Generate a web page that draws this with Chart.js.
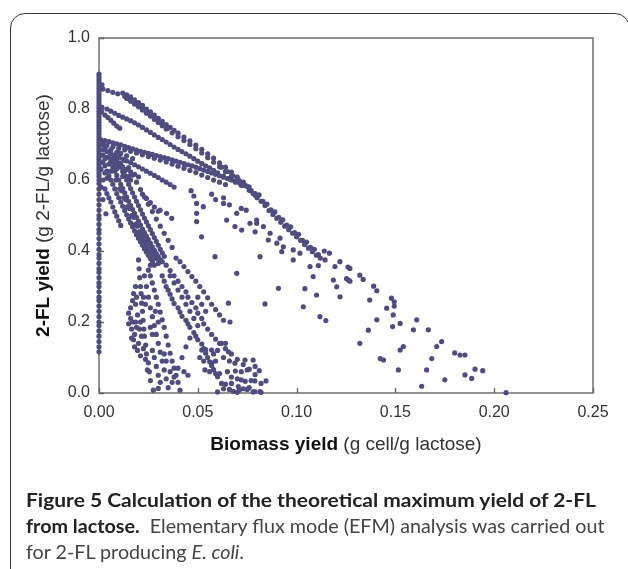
<!DOCTYPE html>
<html>
<head>
<meta charset="utf-8">
<script src="https://cdn.jsdelivr.net/npm/chart.js@4/dist/chart.umd.min.js"></script>
<style>
  html, body { margin:0; padding:0; background:#fff; overflow:hidden; }
  #wrap { position:relative; width:628px; height:569px; }
  #frame { position:absolute; left:10px; top:13px; width:620px; height:600px;
           border:1.6px solid #333; border-radius:15px; box-sizing:border-box; }
  #chart { position:absolute; left:0; top:0; }
  .cap { position:absolute; left:26px; font-family:Lato, "Noto Sans", sans-serif; font-size:19px;
         color:#444; white-space:nowrap; transform-origin:0 50%; line-height:26px; }
  .cap b { color:#222; }
</style>
</head>
<body>
<div id="wrap">
  <div id="frame"></div>
  <canvas id="chart" width="628" height="569"></canvas>
  <div class="cap" id="cap1" style="top:487px"><b>Figure 5 Calculation of the theoretical maximum yield of 2-FL</b></div>
  <div class="cap" id="cap2" style="top:513px"><b>from lactose.</b>&nbsp; Elementary flux mode (EFM) analysis was carried out</div>
  <div class="cap" id="cap3" style="top:539px">for 2-FL producing <i>E. coli</i>.</div>
</div>
<script>
// axis ticks
var xTicks = [0, 0.05, 0.10, 0.15, 0.20, 0.25];
var yTicks = [0, 0.2, 0.4, 0.6, 0.8, 1.0];

// EFM points, [biomass yield, 2-FL yield]
var zeroBiomass = [
  [0,0.116],[0,0.13],[0,0.145],[0,0.16],[0,0.175],[0,0.19],[0,0.2],[0,0.215],[0,0.23],[0,0.245],
  [0,0.26],[0,0.27],[0,0.285],[0,0.3],[0,0.31],[0,0.325],[0,0.34],[0,0.35],[0,0.365],[0,0.38],
  [0,0.39],[0,0.405],[0,0.42],[0,0.435],[0,0.45],[0,0.46],[0,0.475],[0,0.49],[0,0.5],[0,0.515],
  [0,0.53],[0,0.545],[0,0.56],[0,0.575],[0,0.59],[0,0.6],[0,0.61],[0,0.618],[0,0.626],[0,0.634],
  [0,0.642],[0,0.65],[0,0.658],[0,0.666],[0,0.674],[0,0.682],[0,0.69],[0,0.698],[0,0.706],[0,0.714],
  [0,0.722],[0,0.73],[0,0.738],[0,0.746],[0,0.754],[0,0.762],[0,0.77],[0,0.778],[0,0.786],[0,0.794],
  [0,0.802],[0,0.81],[0,0.818],[0,0.826],[0,0.834],[0,0.842],[0,0.85],[0,0.858],[0,0.866],[0,0.874],
  [0,0.882],[0,0.89],[0,0.898]
];

var topBand = [
  [0.0015,0.868],[0.002,0.856],[0.0045,0.852],[0.007,0.847],[0.0095,0.843],
  [0.012,0.845],[0.014,0.84],[0.016,0.834],[0.018,0.826],[0.02,0.818],[0.022,0.81],[0.024,0.8],
  [0.026,0.792],[0.028,0.783],[0.03,0.774],[0.032,0.765],[0.034,0.756],[0.036,0.748],[0.038,0.74],
  [0.04,0.732],[0.043,0.721],[0.046,0.71],[0.049,0.698],[0.052,0.686],[0.055,0.674],[0.058,0.662],
  [0.061,0.648],[0.064,0.636],[0.067,0.622],[0.07,0.608],[0.073,0.594],[0.076,0.58],
  [0.014,0.83],[0.016,0.822],[0.018,0.814],[0.02,0.806],[0.022,0.797],[0.024,0.788],[0.026,0.78],
  [0.028,0.771],[0.03,0.762],[0.032,0.753],[0.034,0.744],[0.037,0.733],[0.04,0.722],[0.043,0.711],
  [0.046,0.7],[0.049,0.688],[0.052,0.676],[0.055,0.663],[0.058,0.65],[0.061,0.637],[0.064,0.624],
  [0.067,0.611],[0.07,0.598],[0.073,0.585],[0.076,0.571],[0.079,0.557],
  [0.078,0.562],[0.08,0.55],[0.082,0.54],[0.084,0.528],[0.086,0.514],[0.088,0.503],[0.09,0.492],
  [0.092,0.481],[0.094,0.47],[0.096,0.46],[0.098,0.45],[0.1,0.44],[0.102,0.43],[0.104,0.418],
  [0.106,0.408],[0.108,0.398],[0.11,0.388],[0.112,0.38],[0.1144,0.375],
  [0.081,0.558],[0.085,0.532],[0.089,0.51],[0.093,0.488],[0.097,0.468],[0.101,0.447],[0.105,0.425],
  [0.109,0.405],[0.114,0.4],[0.1166,0.394],[0.1219,0.37],[0.126,0.355],[0.127,0.351],[0.132,0.332],
  [0.1337,0.32],[0.139,0.301],[0.1406,0.288],[0.148,0.267],[0.1494,0.257],[0.1494,0.245]
];

var secondBand = [
  [0.0015,0.805],[0.004,0.8],[0.006,0.794],[0.008,0.788],[0.01,0.782],[0.012,0.777],[0.014,0.772],
  [0.016,0.767],[0.018,0.761],[0.02,0.755],[0.022,0.748],[0.024,0.741],[0.026,0.734],[0.028,0.727],
  [0.03,0.72],[0.032,0.714],[0.034,0.707],[0.036,0.7],[0.038,0.693],[0.04,0.686],[0.042,0.68],
  [0.044,0.674],[0.046,0.667],[0.048,0.66],[0.05,0.653],[0.052,0.646],[0.054,0.64],[0.056,0.634],
  [0.058,0.627],[0.06,0.62],[0.063,0.611],[0.066,0.603],[0.069,0.594],[0.072,0.585],
  [0.0013,0.792],[0.003,0.783],[0.0045,0.776],[0.006,0.768],[0.0075,0.76],[0.009,0.752],[0.0105,0.746]
];

var middleBand = [
  [0.001,0.713],[0.003,0.711],[0.005,0.708],[0.007,0.705],[0.009,0.702],[0.011,0.699],[0.013,0.695],
  [0.015,0.691],[0.017,0.688],[0.019,0.684],[0.021,0.681],[0.023,0.678],[0.025,0.675],[0.027,0.672],
  [0.029,0.669],[0.031,0.666],[0.033,0.663],[0.035,0.66],[0.037,0.657],[0.039,0.653],[0.041,0.65],
  [0.043,0.646],[0.045,0.643],[0.047,0.64],[0.049,0.636],[0.051,0.632],[0.053,0.628],[0.055,0.624],
  [0.057,0.62],[0.059,0.616],[0.061,0.612],[0.063,0.608],[0.065,0.604],[0.067,0.6],[0.069,0.596],
  [0.071,0.592],[0.073,0.588],[0.075,0.582],
  [0.004,0.697],[0.007,0.693],[0.01,0.689],[0.013,0.685],[0.016,0.681],[0.019,0.676],[0.022,0.671],
  [0.025,0.666],[0.028,0.661],[0.031,0.656],[0.034,0.651],[0.037,0.645],[0.04,0.639],[0.043,0.633],
  [0.046,0.627],[0.049,0.621],[0.052,0.614],[0.055,0.607],[0.058,0.6],[0.061,0.594],[0.064,0.587],
  [0.002,0.685],[0.004,0.68],[0.006,0.675],[0.008,0.67],[0.01,0.664],[0.012,0.659],[0.014,0.654],
  [0.016,0.649],[0.018,0.643],[0.02,0.637],[0.022,0.631],[0.024,0.625],[0.026,0.619],[0.028,0.613],
  [0.03,0.607],[0.032,0.6],[0.034,0.594],[0.036,0.587],[0.038,0.58],
  [0.002,0.67],[0.004,0.664],[0.006,0.657],[0.008,0.65],[0.01,0.644],[0.012,0.637],[0.014,0.63],
  [0.016,0.623],[0.018,0.616],[0.02,0.609]
];

var steepFan = [
  [0.003,0.64],[0.004,0.625],[0.005,0.612],[0.006,0.6],[0.007,0.588],[0.008,0.575],[0.009,0.562],
  [0.01,0.55],[0.011,0.538],[0.012,0.526],[0.013,0.514],[0.014,0.502],[0.015,0.49],[0.016,0.479],
  [0.017,0.468],[0.018,0.457],[0.019,0.446],[0.02,0.436],[0.021,0.426],[0.022,0.416],[0.023,0.406],
  [0.024,0.397],[0.025,0.388],[0.026,0.379],[0.027,0.37],
  [0.006,0.65],[0.007,0.637],[0.008,0.625],[0.009,0.613],[0.01,0.6],[0.011,0.588],[0.012,0.576],
  [0.013,0.564],[0.014,0.552],[0.015,0.54],[0.016,0.528],[0.017,0.517],[0.018,0.506],[0.019,0.495],
  [0.02,0.484],[0.021,0.473],[0.022,0.462],[0.023,0.452],[0.024,0.442],[0.025,0.432],[0.026,0.422],
  [0.027,0.412],[0.028,0.402],[0.029,0.393],[0.03,0.384],[0.031,0.375],
  [0.009,0.66],[0.01,0.648],[0.011,0.636],[0.012,0.624],[0.013,0.612],[0.014,0.6],[0.015,0.588],
  [0.016,0.576],[0.017,0.564],[0.018,0.552],[0.019,0.54],[0.02,0.528],[0.021,0.516],[0.022,0.504],
  [0.023,0.493],[0.024,0.482],[0.025,0.471],[0.026,0.46],[0.027,0.449],[0.028,0.438],[0.029,0.427],
  [0.03,0.416],[0.031,0.405],[0.032,0.395],[0.033,0.385],
  [0.013,0.655],[0.015,0.635],[0.017,0.614],[0.019,0.594],[0.021,0.573],[0.023,0.552],[0.025,0.532],
  [0.027,0.511],[0.029,0.49],[0.031,0.47],[0.033,0.45],[0.035,0.43],[0.037,0.41],
  [0.003,0.575],[0.004,0.562],[0.005,0.55],[0.006,0.538],[0.007,0.524],[0.008,0.51],[0.009,0.498],
  [0.01,0.485],[0.011,0.472],[0.002,0.545],[0.0035,0.505],
  [0.022,0.56],[0.024,0.548],[0.026,0.536],[0.028,0.524],[0.03,0.512]
];

var lowerFan = [
  [0.034,0.36],[0.036,0.345],[0.038,0.33],[0.04,0.315],[0.042,0.3],[0.044,0.285],[0.045,0.27],
  [0.047,0.255],[0.049,0.24],[0.05,0.225],[0.052,0.21],[0.053,0.195],[0.055,0.18],[0.057,0.165],
  [0.059,0.152],[0.061,0.14],[0.064,0.125],[0.067,0.11],[0.07,0.095],[0.073,0.08],[0.076,0.067],
  [0.039,0.38],[0.041,0.37],[0.043,0.356],[0.045,0.342],[0.047,0.328],[0.049,0.315],[0.051,0.3],
  [0.053,0.285],[0.055,0.268],[0.057,0.25],[0.059,0.235],[0.061,0.22],[0.063,0.205],[0.0655,0.253],
  [0.0663,0.2],
  [0.032,0.33],[0.033,0.315],[0.034,0.3],[0.035,0.29],[0.036,0.278],[0.037,0.265],[0.038,0.252],
  [0.04,0.24],[0.041,0.228],[0.042,0.216],[0.044,0.205],[0.045,0.195],[0.046,0.185],[0.048,0.17],
  [0.049,0.16],[0.05,0.15],[0.052,0.138],[0.053,0.125],[0.054,0.112],[0.055,0.1],[0.056,0.088],
  [0.057,0.077],[0.058,0.066],[0.059,0.055],[0.06,0.046],
  [0.025,0.346],[0.026,0.33],[0.027,0.31],[0.028,0.29],[0.029,0.27],[0.03,0.25],[0.031,0.228],
  [0.032,0.206],[0.033,0.185],[0.034,0.16],[0.035,0.135],[0.036,0.112],[0.037,0.09],[0.038,0.07],
  [0.039,0.05],[0.04,0.03],[0.041,0.008],
  [0.02,0.375],[0.0203,0.35],[0.0206,0.325],[0.021,0.3],[0.0213,0.28],[0.0216,0.253],[0.022,0.23],
  [0.0223,0.205],[0.0227,0.18],[0.023,0.16],[0.0236,0.135],[0.024,0.11],[0.025,0.085],[0.0255,0.06],
  [0.026,0.035],[0.0275,0.008],
  [0.015,0.225],[0.016,0.21],[0.015,0.195],[0.0165,0.18],[0.017,0.2],[0.018,0.165],[0.0175,0.15],
  [0.019,0.185],[0.02,0.14],[0.0195,0.12],[0.021,0.105],[0.016,0.24],[0.0185,0.25],[0.019,0.27],
  [0.0175,0.28],[0.0185,0.3],[0.017,0.26],
  [0.023,0.33],[0.024,0.3],[0.025,0.27],[0.026,0.24],[0.027,0.215],[0.028,0.19],[0.029,0.165],
  [0.03,0.14],[0.031,0.115],[0.032,0.09],[0.033,0.065],[0.034,0.04],[0.035,0.015],[0.03,0.013]
];

var bottomCluster = [
  [0.052,0.121],[0.054,0.122],[0.057,0.121],[0.062,0.14],[0.064,0.14],[0.0655,0.116],[0.057,0.085],
  [0.059,0.09],[0.0536,0.065],[0.056,0.06],[0.061,0.055],[0.0688,0.084],[0.0739,0.093],[0.075,0.065],
  [0.079,0.075],[0.062,0.027],[0.064,0.025],[0.067,0.027],[0.072,0.037],[0.074,0.033],[0.077,0.035],
  [0.079,0.052],[0.082,0.027],[0.06,0.003],[0.068,0.005],[0.07,0.002],[0.078,0.003],[0.082,0.002],
  [0.0705,0.018],[0.073,0.012],[0.072,0.06],[0.069,0.062],
  [0.078,0.093],[0.0811,0.063],[0.0789,0.034],[0.0845,0.034],[0.0789,0.004],[0.0815,0.004],
  [0.051,0.1],[0.053,0.09],[0.058,0.11],[0.06,0.12],[0.063,0.1],[0.066,0.09],[0.065,0.06],
  [0.067,0.045],[0.07,0.04],[0.063,0.012],[0.066,0.01],[0.071,0.008],[0.075,0.01],[0.076,0.015]
];

var scattered = [
  [0.0309,0.515],[0.0342,0.506],[0.0368,0.492],[0.0494,0.534],[0.0494,0.506],[0.0494,0.483],
  [0.0528,0.525],[0.063,0.534],[0.0646,0.487],[0.0697,0.506],[0.0688,0.469],[0.0722,0.459],
  [0.0764,0.478],[0.0798,0.487],[0.0832,0.469],[0.0866,0.45],[0.09,0.422],[0.0933,0.412],
  [0.0519,0.44],[0.0587,0.384],[0.0697,0.337],[0.0815,0.384],[0.084,0.251],[0.0908,0.295],
  [0.0466,0.57],[0.048,0.555],[0.057,0.56],[0.059,0.545],[0.063,0.55],[0.066,0.53],[0.072,0.52],
  [0.0745,0.515],
  [0.0798,0.478],[0.079,0.454],[0.0857,0.431],[0.0916,0.436],[0.0925,0.398],[0.0983,0.375],
  [0.1034,0.243],[0.1042,0.294],[0.1101,0.276],[0.1118,0.215],[0.1148,0.204],[0.1084,0.328],
  [0.1186,0.318],[0.1203,0.299],[0.122,0.271],[0.1262,0.318],[0.0983,0.403],[0.1017,0.394],
  [0.1068,0.356],[0.111,0.359],[0.1194,0.356],[0.1253,0.322],[0.127,0.315],
  [0.132,0.14],[0.1363,0.177],[0.1406,0.206],[0.137,0.262],[0.1423,0.097],[0.144,0.093],
  [0.1456,0.239],[0.1489,0.22],[0.1486,0.187],[0.1524,0.196],[0.1515,0.065],[0.1524,0.121],
  [0.154,0.131],[0.1591,0.178],[0.1608,0.206],[0.1667,0.178],[0.1633,0.019],[0.1658,0.065],
  [0.1684,0.097],[0.1709,0.131],[0.1734,0.145],[0.175,0.037],[0.18,0.113],[0.1827,0.107],
  [0.1852,0.107],[0.1852,0.051],[0.1886,0.041],[0.1903,0.067],[0.1942,0.063],[0.206,0.001]
];

// extra points where the bands of the figure are solid rather than dotted
var denseFill = [
  [0.013,0.836],[0.015,0.829],[0.017,0.822],[0.019,0.814],[0.021,0.806],[0.023,0.798],[0.025,0.79],
  [0.027,0.781],[0.029,0.772],[0.031,0.763],[0.033,0.754],[0.035,0.746],[0.062,0.636],[0.065,0.624],
  [0.068,0.611],[0.071,0.598],[0.074,0.585],[0.077,0.57],[0.079,0.562],[0.083,0.54],[0.087,0.516],
  [0.091,0.495],[0.095,0.473],[0.099,0.452],[0.103,0.43],[0.107,0.41],[0.111,0.39],
  [0.002,0.65],[0.003,0.66],[0.005,0.645],[0.005,0.665],[0.007,0.66],[0.008,0.64],[0.003,0.62],
  [0.004,0.605],[0.006,0.625],[0.009,0.632],[0.011,0.645],[0.012,0.61],[0.013,0.625],[0.015,0.61],
  [0.016,0.6],[0.011,0.675],[0.006,0.685],[0.009,0.678],[0.014,0.668],[0.017,0.66],[0.001,0.63],
  [0.002,0.6],[0.001,0.58],[0.003,0.69],[0.002,0.7],
  [0.0115,0.57],[0.0135,0.545],[0.0155,0.52],[0.0175,0.495],[0.0195,0.47],[0.0215,0.445],
  [0.0235,0.425],[0.0255,0.405],[0.0275,0.39],[0.0295,0.378],[0.0085,0.6],[0.0105,0.575],
  [0.0125,0.55],[0.0145,0.525],[0.0165,0.5],[0.0185,0.476],[0.0205,0.455],[0.0225,0.435],
  [0.0245,0.415],[0.0265,0.395],[0.0285,0.38],[0.03,0.365],[0.032,0.37],[0.028,0.36],[0.026,0.36],
  [0.0165,0.155],[0.018,0.13],[0.0185,0.2],[0.0205,0.18],[0.021,0.2],[0.0195,0.22],[0.0215,0.16],
  [0.0225,0.125],[0.0235,0.095],[0.0245,0.065],[0.0225,0.27],[0.0235,0.25],[0.027,0.12],[0.028,0.1],
  [0.029,0.075],[0.03,0.05],[0.031,0.03],[0.026,0.185],[0.027,0.165],[0.0285,0.23],[0.03,0.2],
  [0.033,0.11],[0.034,0.09],[0.036,0.06],[0.037,0.03],[0.038,0.045],[0.04,0.07],[0.042,0.1],
  [0.044,0.13],[0.046,0.155],[0.043,0.06],[0.045,0.05],
  [0.036,0.33],[0.038,0.31],[0.04,0.29],[0.042,0.27],[0.044,0.25],[0.046,0.23],[0.048,0.21],
  [0.05,0.19],[0.05,0.27],[0.052,0.25],[0.054,0.23]
];

var allPoints = [].concat(zeroBiomass, topBand, secondBand, middleBand, steepFan, lowerFan, bottomCluster, scattered, denseFill);

// frame, inward ticks and mixed bold/normal axis titles
var framePlugin = {
  id: 'framePlugin',
  beforeDatasetsDraw: function(chart) {
    var ctx = chart.ctx, a = chart.chartArea;
    var xs = chart.scales.x, ys = chart.scales.y;
    ctx.save();
    ctx.strokeStyle = '#666';
    ctx.lineWidth = 1.4;
    ctx.strokeRect(a.left, a.top, a.right - a.left, a.bottom - a.top);
    ctx.beginPath();
    for (var v of xTicks) {
      var px = Math.round(xs.getPixelForValue(v)) + 0.5;
      ctx.moveTo(px, a.bottom); ctx.lineTo(px, a.bottom - 5);
    }
    for (var v of yTicks) {
      var py = Math.round(ys.getPixelForValue(v)) + 0.5;
      ctx.moveTo(a.left, py); ctx.lineTo(a.left + 5, py);
    }
    ctx.stroke();
    ctx.restore();
  },
  afterDraw: function(chart) {
    var ctx = chart.ctx, a = chart.chartArea;
    ctx.save();
    ctx.textBaseline = 'middle';
    drawTitle(ctx, 'Biomass yield ', '(g cell/g lactose)', (a.left + a.right) / 2, 445);
    ctx.translate(44, (a.top + a.bottom) / 2);
    ctx.rotate(-Math.PI / 2);
    drawTitle(ctx, '2-FL yield ', '(g 2-FL/g lactose)', 0, 0);
    ctx.restore();
  }
};

function drawTitle(ctx, boldPart, normalPart, cx, cy) {
  ctx.font = 'bold 19px "Liberation Sans", Arial, sans-serif';
  var w1 = ctx.measureText(boldPart).width;
  ctx.font = '19px "Liberation Sans", Arial, sans-serif';
  var w2 = ctx.measureText(normalPart).width;
  var x0 = cx - (w1 + w2) / 2;
  ctx.textAlign = 'left';
  ctx.fillStyle = '#111';
  ctx.font = 'bold 19px "Liberation Sans", Arial, sans-serif';
  ctx.fillText(boldPart, x0, cy);
  ctx.fillStyle = '#333';
  ctx.font = '19px "Liberation Sans", Arial, sans-serif';
  ctx.fillText(normalPart, x0 + w1, cy);
}

var ctx = document.getElementById('chart').getContext('2d');
var myChart = new Chart(ctx, {
  type: 'scatter',
  data: {
    datasets: [{
      data: allPoints.map(function(p){ return {x:p[0], y:p[1]}; }),
      backgroundColor: '#4f4d7f',
      borderWidth: 0,
      pointRadius: 2.6,
      clip: false
    }]
  },
  options: {
    responsive: false,
    animation: false,
    events: [],
    layout: { padding: { left: 0, top: 38, right: 35, bottom: 146 } },
    plugins: { legend: { display: false }, tooltip: { enabled: false } },
    scales: {
      x: {
        type: 'linear', min: 0, max: 0.25,
        afterBuildTicks: function(s){ s.ticks = xTicks.map(function(v){ return {value:v}; }); },
        afterFit: function(s){ s.height = 30; },
        grid: { display: false, drawTicks: false },
        border: { display: false },
        ticks: { padding: 10, color: '#333', font: { family: '"Liberation Sans", Arial', size: 16 },
                 callback: function(v){ return v.toFixed(2); } }
      },
      y: {
        type: 'linear', min: 0, max: 1,
        afterBuildTicks: function(s){ s.ticks = yTicks.map(function(v){ return {value:v}; }); },
        afterFit: function(s){ s.width = 99; },
        grid: { display: false, drawTicks: false },
        border: { display: false },
        ticks: { padding: 9, color: '#333', font: { family: '"Liberation Sans", Arial', size: 16 },
                 callback: function(v){ return v.toFixed(1); } }
      }
    }
  },
  plugins: [framePlugin]
});

// stretch caption lines to the widths seen in the figure
function fitLine(id, target) {
  var el = document.getElementById(id);
  var s = target / el.scrollWidth;
  el.style.transform = 'scaleX(' + s + ')';
  return s;
}
fitLine('cap1', 570);
var s2 = fitLine('cap2', 579);
document.getElementById('cap3').style.transform = 'scaleX(' + s2 + ')';
</script>
</body>
</html>
